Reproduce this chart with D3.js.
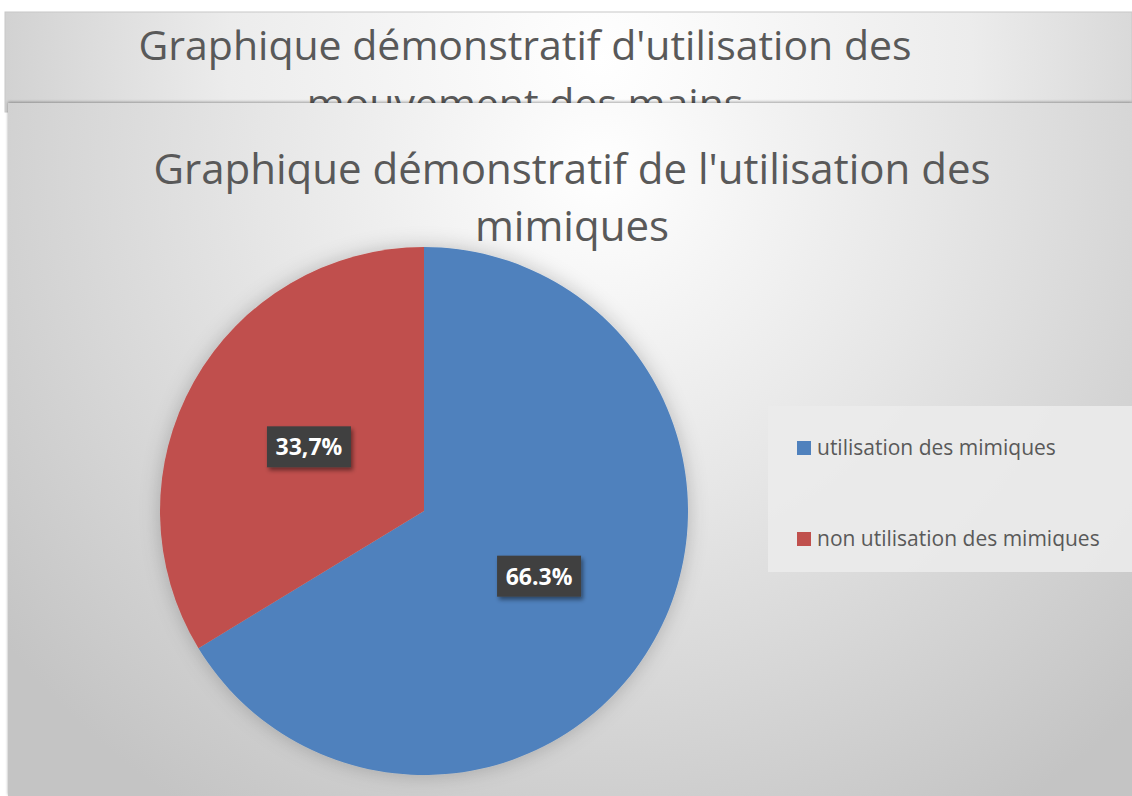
<!DOCTYPE html>
<html>
<head>
<meta charset="utf-8">
<script src="https://cdn.jsdelivr.net/npm/d3@7"></script>
<style>
  html, body { margin: 0; padding: 0; background: #ffffff; }
  svg { display: block; }
</style>
</head>
<body>
<div id="chart"></div>
<script>
// chart data
var categories = ["utilisation des mimiques", "non utilisation des mimiques"];
var values = [66.3, 33.7];
var valueLabels = ["66.3%", "33,7%"];
var colors = ["#4F81BD", "#C0504D"];

var backTitle = ["Graphique démonstratif d'utilisation des", "mouvement des mains"];
var frontTitle = ["Graphique démonstratif de l'utilisation des", "mimiques"];

var width = 1132, height = 796;

var svg = d3.select("#chart").append("svg")
    .attr("width", width)
    .attr("height", height);

var defs = svg.append("defs");

// background gradient of the chart behind
var gBack = defs.append("radialGradient")
    .attr("id", "bgBack")
    .attr("gradientUnits", "userSpaceOnUse")
    .attr("cx", 600).attr("cy", 60).attr("r", 620);
gBack.append("stop").attr("offset", "0%").attr("stop-color", "#ffffff");
gBack.append("stop").attr("offset", "60%").attr("stop-color", "#ececec");
gBack.append("stop").attr("offset", "100%").attr("stop-color", "#cfcfcf");

// background gradient of the front chart
var gFront = defs.append("radialGradient")
    .attr("id", "bgFront")
    .attr("gradientUnits", "userSpaceOnUse")
    .attr("cx", 600).attr("cy", 170).attr("r", 760);
gFront.append("stop").attr("offset", "0%").attr("stop-color", "#ffffff");
gFront.append("stop").attr("offset", "45%").attr("stop-color", "#e6e6e6");
gFront.append("stop").attr("offset", "100%").attr("stop-color", "#c4c4c4");

var pieShadow = defs.append("filter").attr("id", "pieShadow")
    .attr("x", "-20%").attr("y", "-20%").attr("width", "140%").attr("height", "140%");
pieShadow.append("feDropShadow")
    .attr("dx", 0).attr("dy", 0).attr("stdDeviation", 10)
    .attr("flood-color", "#000").attr("flood-opacity", 0.22);

var boxShadow = defs.append("filter").attr("id", "boxShadow")
    .attr("x", "-30%").attr("y", "-30%").attr("width", "160%").attr("height", "160%");
boxShadow.append("feDropShadow")
    .attr("dx", 2).attr("dy", 3).attr("stdDeviation", 2)
    .attr("flood-color", "#000").attr("flood-opacity", 0.45);

var edgeShadow = defs.append("filter").attr("id", "edgeShadow")
    .attr("x", "-5%").attr("y", "-10%").attr("width", "110%").attr("height", "120%");
edgeShadow.append("feDropShadow")
    .attr("dx", 0).attr("dy", -1).attr("stdDeviation", 1.5)
    .attr("flood-color", "#000").attr("flood-opacity", 0.35);

// chart behind (only the top part is visible)
svg.append("rect")
    .attr("x", 5).attr("y", 12)
    .attr("width", width - 5).attr("height", 100)
    .attr("fill", "url(#bgBack)")
    .attr("stroke", "#c8c8c8").attr("stroke-width", 1);

svg.append("g").selectAll("text")
    .data(backTitle)
    .enter().append("text")
    .attr("x", 525)
    .attr("y", function(d, i) { return 60 + i * 58; })
    .attr("text-anchor", "middle")
    .style("font-family", "'Open Sans', sans-serif")
    .style("font-size", "41px")
    .style("fill", "#595959")
    .text(function(d) { return d; });

// front chart
svg.append("rect")
    .attr("x", 8).attr("y", 103)
    .attr("width", width - 8).attr("height", height - 103)
    .attr("fill", "url(#bgFront)")
    .attr("filter", "url(#edgeShadow)");

svg.append("g").selectAll("text")
    .data(frontTitle)
    .enter().append("text")
    .attr("x", 572)
    .attr("y", function(d, i) { return 184 + i * 57; })
    .attr("text-anchor", "middle")
    .style("font-family", "'Open Sans', sans-serif")
    .style("font-size", "42px")
    .style("fill", "#595959")
    .text(function(d) { return d; });

// pie
var cx = 424, cy = 511, radius = 264;

var pie = d3.pie().sort(null).value(function(d) { return d; });
var arcs = pie(values);
var arc = d3.arc().innerRadius(0).outerRadius(radius);

var pieGroup = svg.append("g")
    .attr("transform", "translate(" + cx + "," + cy + ")");

pieGroup.append("g")
    .attr("filter", "url(#pieShadow)")
    .selectAll("path")
    .data(arcs)
    .enter().append("path")
    .attr("d", arc)
    .attr("fill", function(d, i) { return colors[i]; });

// data labels in dark boxes
var labels = pieGroup.selectAll(".label")
    .data(arcs)
    .enter().append("g")
    .attr("class", "label")
    .attr("transform", function(d) { return "translate(" + arc.centroid(d) + ")"; });

labels.append("rect")
    .attr("x", -42).attr("y", -20)
    .attr("width", 84).attr("height", 41)
    .attr("fill", "#404040")
    .attr("filter", "url(#boxShadow)");

labels.append("text")
    .attr("y", 9)
    .attr("text-anchor", "middle")
    .style("font-family", "'Open Sans', sans-serif")
    .style("font-weight", "bold")
    .style("font-size", "23px")
    .style("fill", "#ffffff")
    .text(function(d, i) { return valueLabels[i]; });

// legend
var legend = svg.append("g");
legend.append("rect")
    .attr("x", 768).attr("y", 406)
    .attr("width", width - 768).attr("height", 166)
    .attr("fill", "#ebebeb")
    .attr("opacity", 0.9);

var legendItems = legend.selectAll(".item")
    .data(categories)
    .enter().append("g")
    .attr("class", "item")
    .attr("transform", function(d, i) { return "translate(797," + (441 + i * 91) + ")"; });

legendItems.append("rect")
    .attr("width", 14).attr("height", 14)
    .attr("fill", function(d, i) { return colors[i]; });

legendItems.append("text")
    .attr("x", 20).attr("y", 14)
    .style("font-family", "'Open Sans', sans-serif")
    .style("font-size", "21px")
    .style("fill", "#595959")
    .text(function(d) { return d; });
</script>
</body>
</html>
